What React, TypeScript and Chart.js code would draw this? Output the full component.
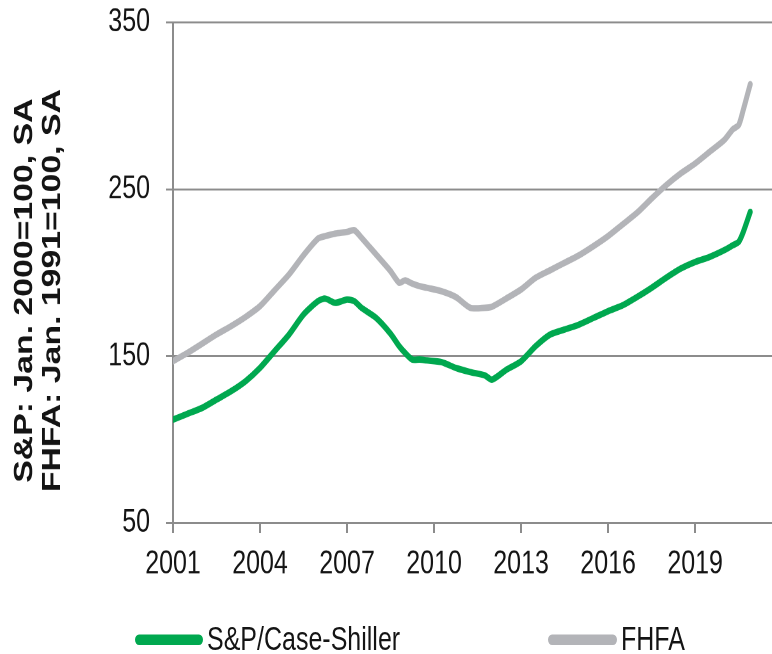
import React, { useEffect, useRef } from "react";
import { Chart, registerables } from "chart.js";

Chart.register(...registerables);

// ---- data ----
const DATES = [
  2001.0, 2001.5, 2002.0, 2002.5, 2003.0, 2003.5, 2004.0, 2004.5, 2005.0, 2005.5,
  2006.0, 2006.25, 2006.6, 2007.0, 2007.25, 2007.5, 2008.0, 2008.5, 2008.8, 2009.0,
  2009.25, 2009.5, 2009.75, 2010.25, 2010.75, 2011.25, 2011.75, 2012.0, 2012.5, 2013.0,
  2013.5, 2014.0, 2014.5, 2015.0, 2015.5, 2016.0, 2016.5, 2017.0, 2017.5, 2018.0,
  2018.5, 2019.0, 2019.5, 2020.0, 2020.3, 2020.5, 2020.65, 2020.9,
];

const CASE_SHILLER = [
  112, 115.5, 119, 124, 129, 135, 143, 153, 163, 175,
  183, 184.5, 182, 184, 183, 179, 173, 163.5, 156, 152,
  148, 148, 147.5, 146.5, 143, 140.5, 138.5, 136, 142, 147,
  156, 163, 166, 169, 173, 177, 180.5, 185.5, 191, 197,
  202.5, 206.5, 209.5, 213.5, 216.5, 218.5, 224, 236.5,
];

const FHFA = [
  147, 152, 157.5, 163, 168, 173.5, 180, 189.5, 199, 210.5,
  220.5, 222, 223.5, 224.5, 225.5, 221, 211, 201, 194, 195.5,
  193.5, 192, 191, 189, 185.5, 179, 179, 179.7, 184.7, 190,
  197, 201.5, 206, 210.5, 216, 222, 229, 236, 244.5, 252.5,
  259.5, 265.5, 272.5, 279.5, 286, 288.5, 297, 313,
];

const SERIES_LABELS = ["S&P/Case-Shiller", "FHFA"];
const X_TICKS = [2001, 2004, 2007, 2010, 2013, 2016, 2019];
const Y_TICKS = [50, 150, 250, 350];
const Y_TITLE_LINES = ["S&P: Jan. 2000=100, SA", "FHFA: Jan. 1991=100, SA"];

// ---- styles ----
const GREEN = "#00a84f";
const GREY = "#b3b4b8";
const AXIS = "#8c8c8c";
const TEXT = "#141414";
const FONT = "'Liberation Sans', Arial, Helvetica, sans-serif";

const W = 772;
const H = 503;
const STRETCH = 654 / 503;

const yTitlePlugin = {
  id: "yTitleLines",
  afterDraw(chart: any) {
    const ctx = chart.ctx;
    ctx.save();
    ctx.font = `bold 26px ${FONT}`;
    ctx.fillStyle = TEXT;
    ctx.textAlign = "center";
    ctx.textBaseline = "middle";
    Y_TITLE_LINES.forEach((line, i) => {
      ctx.save();
      ctx.translate(25 + i * 28, 223.5);
      ctx.rotate(-Math.PI / 2);
      ctx.fillText(line, 0, 0);
      ctx.restore();
    });
    ctx.restore();
  },
};

export default function App() {
  const canvasRef = useRef<HTMLCanvasElement | null>(null);

  useEffect(() => {
    const canvas = canvasRef.current;
    if (!canvas) return;
    const chart = new Chart(canvas, {
      type: "line",
      data: {
        datasets: [
          {
            label: SERIES_LABELS[0],
            data: DATES.map((d, i) => ({ x: d, y: CASE_SHILLER[i] })),
            borderColor: GREEN,
            backgroundColor: GREEN,
            borderWidth: 5,
            pointRadius: 0,
            tension: 0.25,
            borderCapStyle: "round",
            borderJoinStyle: "round",
          },
          {
            label: SERIES_LABELS[1],
            data: DATES.map((d, i) => ({ x: d, y: FHFA[i] })),
            borderColor: GREY,
            backgroundColor: GREY,
            borderWidth: 5,
            pointRadius: 0,
            tension: 0.25,
            borderCapStyle: "round",
            borderJoinStyle: "round",
          },
        ],
      },
      options: {
        animation: false,
        responsive: false,
        devicePixelRatio: 2,
        layout: { padding: { top: 17.3, right: 0, bottom: 50.7, left: 0 } },
        plugins: {
          legend: { display: false },
          tooltip: { enabled: false },
        },
        scales: {
          x: {
            type: "linear",
            min: 2001,
            max: 2021.65,
            afterBuildTicks: (scale: any) => {
              scale.ticks = X_TICKS.map((v) => ({ value: v }));
            },
            afterFit: (scale: any) => {
              scale.height = 50;
              scale.paddingLeft = 0;
              scale.paddingRight = 0;
            },
            grid: {
              drawOnChartArea: false,
              drawTicks: true,
              tickLength: 7.7,
              tickWidth: 2,
              color: AXIS,
              lineWidth: 2,
            },
            border: { display: true, color: AXIS, width: 1.5 },
            ticks: {
              autoSkip: false,
              maxRotation: 0,
              padding: 9,
              color: TEXT,
              font: { family: FONT, size: 25 },
              callback: (v: any) => String(v),
            },
          },
          y: {
            type: "linear",
            min: 50,
            max: 350,
            afterBuildTicks: (scale: any) => {
              scale.ticks = Y_TICKS.map((v) => ({ value: v }));
            },
            afterFit: (scale: any) => {
              scale.width = 173;
              scale.paddingTop = 0;
              scale.paddingBottom = 0;
            },
            grid: {
              drawOnChartArea: true,
              drawTicks: true,
              tickLength: 7,
              tickWidth: 1.5,
              color: AXIS,
              lineWidth: 1.5,
            },
            border: { display: true, color: AXIS, width: 2 },
            ticks: {
              padding: 16,
              color: TEXT,
              font: { family: FONT, size: 25 },
              callback: (v: any) => String(v),
            },
          },
        },
      },
      plugins: [yTitlePlugin],
    } as any);
    return () => chart.destroy();
  }, []);

  const legendText: React.CSSProperties = {
    position: "absolute",
    top: 476,
    fontFamily: FONT,
    fontSize: 25,
    lineHeight: "30px",
    color: TEXT,
    whiteSpace: "nowrap",
  };
  const bar = (left: number, width: number, color: string): React.CSSProperties => ({
    position: "absolute",
    left,
    width,
    top: 488.4,
    height: 7.7,
    borderRadius: 4,
    background: color,
  });

  return (
    <div
      style={{
        position: "absolute",
        left: 0,
        top: 0,
        width: W,
        height: H,
        transform: `scaleY(${STRETCH})`,
        transformOrigin: "0 0",
        background: "#ffffff",
      }}
    >
      <canvas
        ref={canvasRef}
        width={W}
        height={H}
        style={{ display: "block", width: W, height: H }}
      />
      <div style={bar(135, 68, GREEN)} />
      <div style={{ ...legendText, left: 207 }}>{SERIES_LABELS[0]}</div>
      <div style={bar(548, 69, GREY)} />
      <div style={{ ...legendText, left: 621 }}>{SERIES_LABELS[1]}</div>
    </div>
  );
}
